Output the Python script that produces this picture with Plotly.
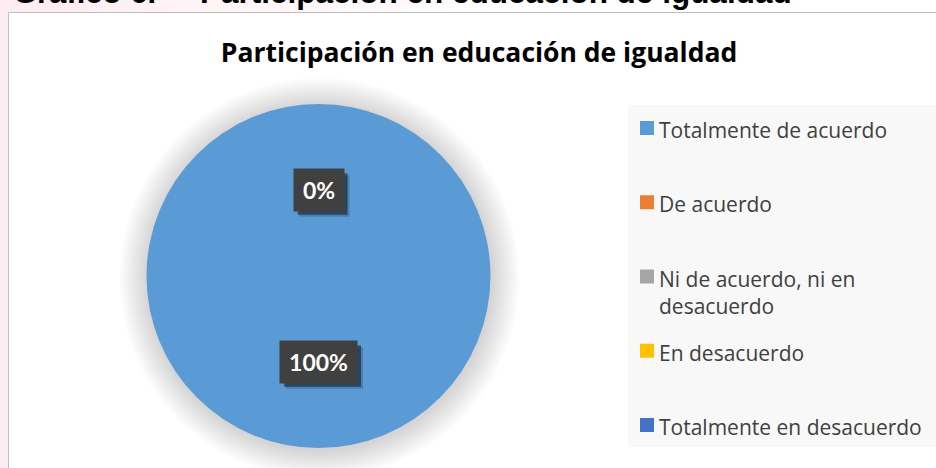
import math
import textwrap
import plotly.graph_objects as go

# ---------------- data ----------------
title = "Participación en educación de igualdad"
heading_num = "Gráfico 6."
categories = [
    "Totalmente de acuerdo",
    "De acuerdo",
    "Ni de acuerdo, ni en desacuerdo",
    "En desacuerdo",
    "Totalmente en desacuerdo",
]
values = [100, 0, 0, 0, 0]
colors = ["#5b9bd5", "#ed7d31", "#a5a5a5", "#ffc000", "#4472c4"]

# ---------------- geometry helpers ----------------
W, H = 936, 468


def X(px):
    return px / W


def Y(py):
    return 1 - py / H


cx, cy, r = 318.5, 276.0, 172.0

shapes = []
annotations = []

# page background strips (pink document margin)
shapes.append(dict(type="rect", xref="paper", yref="paper", x0=X(0), x1=X(8.5),
                   y0=Y(H), y1=Y(0), fillcolor="#fdedf2", line_width=0, layer="below"))
n_strip = 12
for k in range(n_strip):
    a = 1 - k / n_strip
    shapes.append(dict(type="rect", xref="paper", yref="paper",
                       x0=X(8.5 + k * 40), x1=X(8.5 + (k + 1) * 40), y0=Y(12.5), y1=Y(0),
                       fillcolor=f"rgba(253,237,242,{a:.2f})", line_width=0, layer="below"))

# chart area
shapes.append(dict(type="rect", xref="paper", yref="paper", x0=X(8.5), x1=X(W + 5),
                   y0=Y(H + 5), y1=Y(12.5), fillcolor="white",
                   line=dict(color="#bfbfbf", width=1), layer="below"))

# soft shadow around pie
for k in range(14, 0, -1):
    rr = r + 2 * k
    shapes.append(dict(type="circle", xref="paper", yref="paper",
                       x0=X(cx + 1 - rr), x1=X(cx + 1 + rr),
                       y0=Y(cy + 2 + rr), y1=Y(cy + 2 - rr),
                       fillcolor="rgba(0,0,0,0.012)", line_width=0, layer="below"))

# legend background
shapes.append(dict(type="rect", xref="paper", yref="paper", x0=X(628), x1=X(W + 5),
                   y0=Y(447), y1=Y(105), fillcolor="#f8f8f8", line_width=0, layer="below"))

fig = go.Figure()
fig.add_trace(go.Pie(
    labels=categories,
    values=values,
    marker=dict(colors=colors, line=dict(width=0)),
    sort=False,
    direction="clockwise",
    rotation=0,
    textinfo="none",
    hoverinfo="label+percent",
    showlegend=False,
    domain=dict(x=[X(cx - r), X(cx + r)], y=[Y(cy + r), Y(cy - r)]),
))

# data labels (Excel-style, at half radius on slice mid-angle)
total = sum(values)
cum = 0.0
seen = set()
for v in values:
    frac = v / total
    mid = cum + frac / 2
    cum += frac
    ang = 2 * math.pi * mid
    lx = cx + 0.5 * r * math.sin(ang)
    ly = cy - 0.5 * r * math.cos(ang)
    txt = f"{round(frac * 100)}%"
    key = (round(lx), round(ly), txt)
    if key in seen:
        continue
    seen.add(key)
    bw = 13.5 * len(txt) + 23
    bh = 41.5
    # shadow
    for off, op in ((6, 0.18), (4, 0.45)):
        shapes.append(dict(type="rect", xref="paper", yref="paper",
                           x0=X(lx - bw / 2 + off), x1=X(lx + bw / 2 + off),
                           y0=Y(ly + bh / 2 + off), y1=Y(ly - bh / 2 + off),
                           fillcolor=f"rgba(0,0,0,{op})", line_width=0, layer="above"))
    annotations.append(dict(
        x=X(lx), y=Y(ly), xref="paper", yref="paper", text=f"<b>{txt}</b>",
        showarrow=False, xanchor="center", yanchor="middle",
        bgcolor="#404040", width=bw, height=bh, borderpad=0,
        font=dict(family="Lato", size=23, color="white"),
    ))

# legend (Excel style, evenly distributed)
leg_top, leg_step = 128.0, 74.25
for i, (cat, col) in enumerate(zip(categories, colors)):
    yc = leg_top + i * leg_step
    shapes.append(dict(type="rect", xref="paper", yref="paper",
                       x0=X(640), x1=X(654), y0=Y(yc + 7), y1=Y(yc - 7),
                       fillcolor=col, line_width=0, layer="above"))
    lines = textwrap.wrap(cat, 24)
    annotations.append(dict(
        x=X(657), y=Y(yc - 14), xref="paper", yref="paper",
        text="<br>".join(lines), showarrow=False, xanchor="left", yanchor="top",
        align="left", font=dict(family="Open Sans", size=21, color="#404040"),
    ))

# document heading cut off at the top of the screenshot
annotations.append(dict(x=X(11), y=Y(-8), xref="paper", yref="paper", text=f"<b>{heading_num}</b>",
                        showarrow=False, xanchor="left", yanchor="middle",
                        font=dict(family="Liberation Sans", size=31, color="black")))
annotations.append(dict(x=X(198), y=Y(-8), xref="paper", yref="paper", text=f"<b>{title}</b>",
                        showarrow=False, xanchor="left", yanchor="middle",
                        font=dict(family="Liberation Sans", size=31.5, color="black")))

fig.update_layout(
    width=W, height=H,
    margin=dict(l=0, r=0, t=0, b=0),
    paper_bgcolor="white",
    plot_bgcolor="white",
    title=dict(text=f"<b>{title}</b>", x=X(479), xanchor="center", y=Y(53), yanchor="middle",
               font=dict(family="Open Sans", size=26.5, color="black")),
    shapes=shapes,
    annotations=annotations,
)

fig.write_html(
    "out.html",
    config={"displayModeBar": False},
    post_script="document.body.style.margin='0';document.body.style.overflow='hidden';",
)
